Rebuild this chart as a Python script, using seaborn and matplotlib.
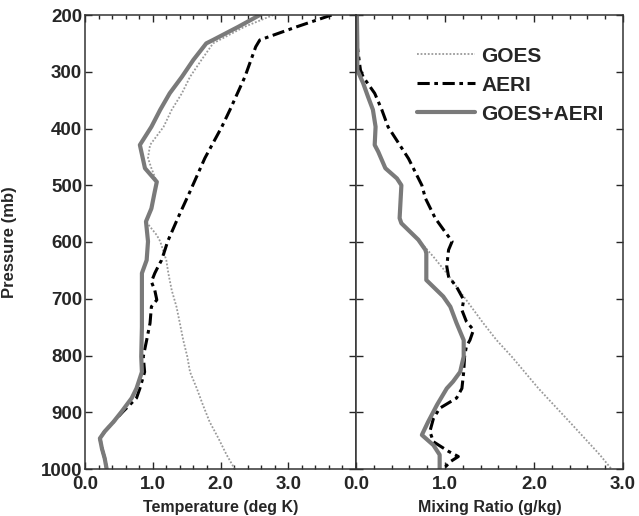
import matplotlib
matplotlib.use("Agg")
import matplotlib.pyplot as plt
from matplotlib.ticker import MultipleLocator
import seaborn as sns
import pandas as pd

# temperature error profiles (deg K) vs pressure (mb)
goes_t_p = [200, 221, 250, 279, 309, 338, 367, 397, 429, 452, 470, 494, 511, 541, 564, 588, 599,
            632, 655, 685, 714, 743, 773, 802, 829, 858, 887, 917, 946, 975, 1000]
goes_t = [2.78, 2.35, 1.89, 1.72, 1.55, 1.43, 1.28, 1.16, 0.96, 0.93, 0.98, 1.06, 1.03, 0.98, 0.90, 1.06, 1.11,
          1.20, 1.23, 1.28, 1.35, 1.40, 1.45, 1.51, 1.55, 1.65, 1.74, 1.84, 1.97, 2.09, 2.21]

aeri_t_p = [200, 221, 244, 256, 309, 367, 397, 452, 511, 558, 599, 614, 632, 643, 655, 670, 685, 702,
            714, 743, 773, 802, 829, 858, 875, 899, 917, 934, 946, 964, 981, 1000]
aeri_t = [3.64, 3.12, 2.58, 2.52, 2.36, 2.14, 2.02, 1.77, 1.55, 1.37, 1.22, 1.18, 1.13, 1.08, 1.03, 0.98, 1.03, 1.06,
          0.98, 0.96, 0.91, 0.86, 0.88, 0.81, 0.76, 0.56, 0.42, 0.29, 0.22, 0.25, 0.29, 0.32]

both_t_p = [200, 221, 244, 250, 279, 309, 338, 367, 397, 429, 470, 494, 511, 541, 564, 599, 632, 655,
            700, 750, 802, 829, 858, 875, 899, 917, 934, 946, 964, 981, 1000]
both_t = [2.58, 2.26, 1.89, 1.79, 1.60, 1.43, 1.25, 1.11, 0.98, 0.81, 0.885, 1.06, 1.03, 0.98, 0.90, 0.93, 0.91, 0.84,
          0.84, 0.84, 0.83, 0.84, 0.76, 0.69, 0.54, 0.42, 0.29, 0.22, 0.25, 0.29, 0.32]

# mixing ratio error profiles (g/kg)
goes_w_p = [200, 250, 297, 320, 344, 367, 397, 429, 441, 470, 488, 500, 558, 567, 596, 626, 655, 696,
            743, 773, 802, 858, 917, 975, 1000]
goes_w = [0.01, 0.015, 0.015, 0.08, 0.135, 0.19, 0.22, 0.21, 0.25, 0.33, 0.46, 0.51, 0.49, 0.51, 0.70, 0.87, 1.02, 1.21,
          1.43, 1.58, 1.75, 2.05, 2.40, 2.74, 2.87]

aeri_w_p = [200, 250, 297, 309, 338, 367, 397, 453, 500, 523, 558, 582, 599, 614, 643, 661, 679, 702, 720,
            740, 755, 773, 784, 802, 829, 858, 875, 893, 911, 934, 952, 969, 978, 987, 997]
aeri_w = [0.0, 0.01, 0.05, 0.08, 0.21, 0.29, 0.36, 0.59, 0.74, 0.78, 0.89, 1.00, 1.08, 1.04, 1.02, 1.04, 1.13, 1.21, 1.19,
          1.24, 1.32, 1.28, 1.24, 1.22, 1.21, 1.19, 1.13, 0.94, 0.87, 0.83, 0.87, 1.04, 1.15, 1.06, 1.00]

both_w_p = [200, 250, 297, 320, 344, 367, 397, 429, 441, 470, 488, 500, 558, 567, 596, 614, 620, 667, 696,
            714, 743, 773, 802, 829, 846, 858, 887, 917, 940, 958, 975, 1000]
both_w = [0.01, 0.015, 0.015, 0.08, 0.135, 0.19, 0.22, 0.21, 0.25, 0.33, 0.46, 0.51, 0.49, 0.51, 0.70, 0.78, 0.79, 0.79, 0.98,
          1.06, 1.13, 1.21, 1.21, 1.17, 1.09, 1.02, 0.91, 0.81, 0.74, 0.87, 0.94, 0.94]

sns.set_style("ticks")
plt.rcParams["font.family"] = ["Liberation Sans", "DejaVu Sans"]
plt.rcParams["font.weight"] = "bold"

styles = {
    "GOES": dict(color="#9a9a9a", lw=1.3, ls=(0, (1, 1))),
    "AERI": dict(color="black", lw=2.2, ls=(0, (4, 1.5, 1.2, 1.5))),
    "GOES+AERI": dict(color="#7a7a7a", lw=3.0, ls="-"),
}

fig = plt.figure(figsize=(6.39, 5.16), dpi=100)
ax1 = fig.add_axes([85 / 639, 47 / 516, 271 / 639, 454 / 516])
ax2 = fig.add_axes([356 / 639, 47 / 516, 267 / 639, 454 / 516], sharey=ax1)

left = [("GOES", goes_t, goes_t_p), ("AERI", aeri_t, aeri_t_p), ("GOES+AERI", both_t, both_t_p)]
right = [("GOES", goes_w, goes_w_p), ("AERI", aeri_w, aeri_w_p), ("GOES+AERI", both_w, both_w_p)]

for ax, series in [(ax1, left), (ax2, right)]:
    for name, vals, pres in series:
        df = pd.DataFrame({"x": vals, "p": pres})
        sns.lineplot(data=df, x="x", y="p", sort=False, estimator=None, ax=ax,
                     label=name, **styles[name])

ax1.set_ylim(1000, 200)
ax1.set_yticks(range(200, 1001, 100))
ax1.set_xlim(0, 4)
ax1.set_xticks([0, 1, 2, 3])
ax1.set_xticklabels(["0.0", "1.0", "2.0", "3.0"])
ax2.set_xlim(0, 3)
ax2.set_xticks([0, 1, 2, 3])
ax2.set_xticklabels(["0.0", "1.0", "2.0", "3.0"])
ax2.tick_params(labelleft=False)

for ax in (ax1, ax2):
    ax.xaxis.set_minor_locator(MultipleLocator(0.2))
    ax.tick_params(which="both", direction="in", top=True, right=True, labelsize=13.5, width=1)
    ax.tick_params(which="major", length=5)
    ax.tick_params(which="minor", length=3)
    ax.tick_params(axis="y", pad=2)
    ax.tick_params(axis="x", pad=5)
    for s in ax.spines.values():
        s.set_linewidth(1.1)
        s.set_color("#333333")
    for lbl in ax.get_xticklabels() + ax.get_yticklabels():
        lbl.set_fontweight("bold")

ax1.set_ylabel("Pressure (mb)", fontsize=12, fontweight="bold")
ax1.yaxis.set_label_coords(-0.25, 0.5)
ax1.set_xlabel("Temperature (deg K)", fontsize=11.5, fontweight="bold")
ax1.xaxis.set_label_coords(0.5, -0.068)
ax2.set_xlabel("Mixing Ratio (g/kg)", fontsize=11.5, fontweight="bold")
ax2.xaxis.set_label_coords(0.5, -0.068)
ax2.set_ylabel("")

ax1.get_legend().remove()
ax2.legend(loc="upper left", bbox_to_anchor=(0.228, 0.93), frameon=False, borderpad=0,
           borderaxespad=0, handlelength=2.8, handletextpad=0.3, labelspacing=0.48,
           prop={"size": 15, "weight": "bold"})

fig.savefig("out.png", dpi=100)
